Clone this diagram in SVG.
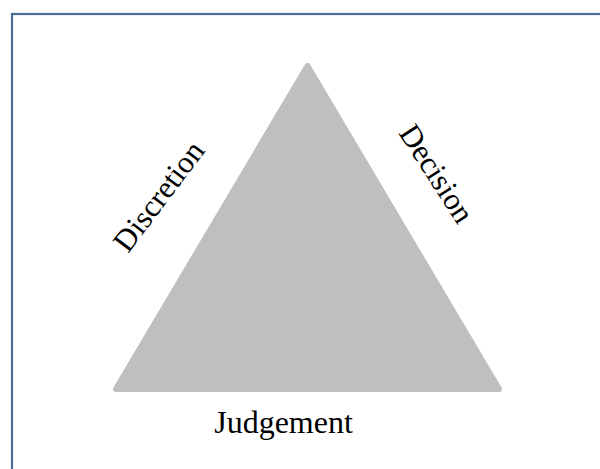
<svg xmlns="http://www.w3.org/2000/svg" width="600" height="469" viewBox="0 0 600 469">
  <style>
    .frame { fill: #ffffff; stroke: #4a6b9b; stroke-width: 2.2; }
    .tri { fill: #bfbfbf; stroke: #bfbfbf; stroke-width: 6; stroke-linejoin: round; }
    .label { font-family: "Liberation Serif", "Times New Roman", serif; font-size: 32px; fill: #000000; }
    .side { font-size: 31px; }
  </style>
  <rect class="frame" x="12" y="14" width="600" height="470"/>
  <g id="triangle">
    <polygon class="tri" points="307.5,66 116,389 499,389"/>
  </g>
  <g id="discretion">
    <text class="label side" transform="translate(128,254) rotate(-53)">Discretion</text>
  </g>
  <g id="decision">
    <text class="label side" transform="translate(398,133) rotate(57)">Decision</text>
  </g>
  <g id="judgement">
    <text class="label" x="283.5" y="433" text-anchor="middle">Judgement</text>
  </g>
  <g id="connectors"/>
</svg>
